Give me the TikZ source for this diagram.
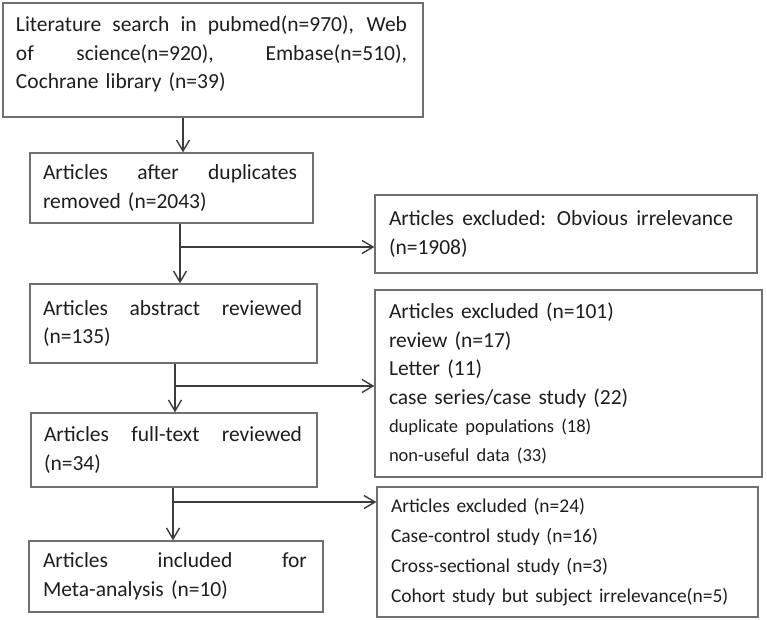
\documentclass[tikz,border=0pt]{standalone}
\usepackage{fontspec}
\setmainfont{Carlito}
\usetikzlibrary{arrows.meta}
\newcommand\jlw[2]{\makebox[#1][s]{\spaceskip=0.25em plus 1fil\relax #2}}
\definecolor{boxline}{HTML}{707070}
\definecolor{arrline}{HTML}{3C3C3C}
\definecolor{txt}{HTML}{1E1E1E}
\begin{document}
\begin{tikzpicture}[x=1pt,y=-1pt,
  box/.style={draw=boxline, line width=1.3pt, rectangle, inner xsep=13pt, inner ysep=0pt,
    align=left, text=txt, font=\fontsize{21.5}{28.5}\selectfont},
  arr/.style={draw=arrline, line width=1.4pt, -{Straight Barb[length=11pt,width=13pt]}}]
\useasboundingbox (0,0) rectangle (767,620);

\node[box, minimum width=420pt, minimum height=114pt, text width=394pt] (b1) at (213,60)
  {\jlw{391pt}{Literature search in pubmed(n=970), Web}\\
   \jlw{391pt}{of science(n=920), Embase(n=510),}\\
   Cochrane library (n=39)\par\vskip12pt\hrule height 0pt width 0pt};

\node[box, minimum width=283pt, minimum height=70pt, text width=257pt] (b2) at (171.5,188)
  {\jlw{254pt}{Articles after duplicates}\\ removed (n=2043)};

\node[box, inner xsep=14pt, minimum width=382pt, minimum height=78pt, text width=354pt] (b3) at (566,234)
  {\jlw{344pt}{Articles excluded: Obvious irrelevance}\\ (n=1908)};

\node[box, minimum width=287pt, minimum height=79pt, text width=261pt] (b4) at (173.5,323.5)
  {\jlw{259pt}{Articles abstract reviewed}\\ (n=135)};

\node[box, inner xsep=14pt, minimum width=387pt, minimum height=187pt, text width=359pt] (b5) at (568.5,383.5)
  {Articles excluded (n=101)\\
   review (n=17)\\
   Letter (11)\\
   case series/case study (22)\\
   {\fontsize{18.5}{28.5}\selectfont duplicate populations (18)}\\
   {\fontsize{18.5}{28.5}\selectfont non-useful data (33)}};

\node[box, minimum width=286pt, minimum height=74pt, text width=260pt] (b6) at (174,450)
  {\jlw{258pt}{Articles full-text reviewed}\\ (n=34)};

\node[box, inner xsep=14pt, minimum width=381pt, minimum height=130pt, text width=353pt,
      font=\fontsize{19.5}{30.3}\selectfont] (b7) at (567.5,552)
  {Articles excluded (n=24)\\
   Case-control study (n=16)\\
   Cross-sectional study (n=3)\\
   Cohort study but subject irrelevance(n=5)};

\node[box, inner xsep=14pt, minimum width=294pt, minimum height=71pt, text width=266pt] (b8) at (176,576.5)
  {\jlw{264pt}{Articles included for}\\ Meta-analysis (n=10)};

\coordinate (x1) at (183,0);
\coordinate (x2) at (180,247);
\coordinate (x3) at (175,386);
\coordinate (x4) at (173,502);

\draw[arr] (x1 |- b1.south) -- (x1 |- b2.north);
\draw[arr] (x2 |- b2.south) -- (x2 |- b4.north);
\draw[arr] (x2) -- (x2 -| b3.west);
\draw[arr] (x3 |- b4.south) -- (x3 |- b6.north);
\draw[arr] (x3) -- (x3 -| b5.west);
\draw[arr] (x4 |- b6.south) -- (x4 |- b8.north);
\draw[arr] (x4) -- (x4 -| b7.west);
\end{tikzpicture}
\end{document}
